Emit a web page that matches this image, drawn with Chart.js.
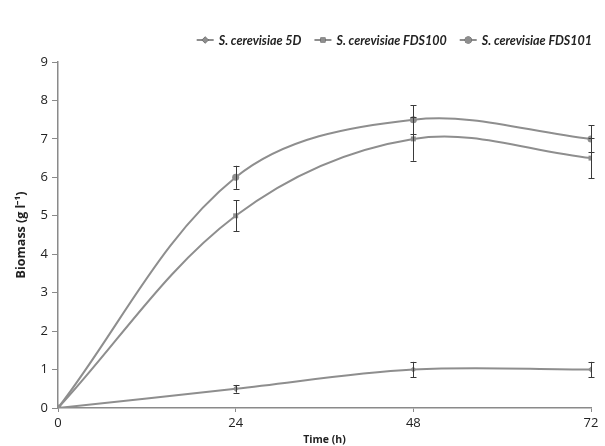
<!DOCTYPE html>
<html>
<head>
<meta charset="utf-8">
<script src="https://cdn.jsdelivr.net/npm/chart.js@4.4.1/dist/chart.umd.min.js"></script>
<style>
    html, body { margin: 0; padding: 0; background: #fff; }
    #wrap { width: 605px; height: 446px; position: relative; }
</style>
</head>
<body>
<div id="wrap"><canvas id="myChart"></canvas></div>
<script>
"use strict";

// data
const timeHours = [0, 24, 48, 72];
const xTicks = [0, 24, 48, 72];
const seriesNames = ['S. cerevisiae 5D', 'S. cerevisiae FDS100', 'S. cerevisiae FDS101'];
const biomass5D = [0, 0.5, 1.0, 1.0];
const error5D = [0, 0.1, 0.2, 0.2];
const biomassFDS100 = [0, 5.0, 7.0, 6.5];
const errorFDS100 = [0, 0.4, 0.57, 0.52];
const biomassFDS101 = [0, 6.0, 7.5, 7.0];
const errorFDS101 = [0, 0.3, 0.37, 0.35];
const markerStyles = ['rectRot', 'rect', 'circle'];

const lineColor = '#8e8e8e';
const errorColor = '#3a3a3a';

function toPoints(values) {
    return timeHours.map(function (t, i) { return { x: t, y: values[i] }; });
}

function makeDataset(i, values, errors) {
    return {
        label: seriesNames[i],
        data: toPoints(values),
        errors: errors,
        borderColor: lineColor,
        backgroundColor: lineColor,
        borderWidth: 2,
        tension: 0.35,
        pointStyle: markerStyles[i],
        pointRadius: i === 0 ? 3 : 3.5,
        pointBorderWidth: 0,
        pointBackgroundColor: lineColor
    };
}

// draws vertical error bars with caps for every point
const errorBarPlugin = {
    id: 'errorBars',
    afterDatasetsDraw(chart) {
        const ctx = chart.ctx;
        const yScale = chart.scales.y;
        ctx.save();
        ctx.strokeStyle = errorColor;
        ctx.lineWidth = 1;
        chart.data.datasets.forEach(function (ds, di) {
            const meta = chart.getDatasetMeta(di);
            meta.data.forEach(function (pt, i) {
                const err = ds.errors[i];
                if (!err) return;
                const v = ds.data[i].y;
                const top = yScale.getPixelForValue(v + err);
                const bottom = yScale.getPixelForValue(v - err);
                const x = Math.round(pt.x) + 0.5;
                ctx.beginPath();
                ctx.moveTo(x, top);
                ctx.lineTo(x, bottom);
                ctx.moveTo(x - 3, Math.round(top) + 0.5);
                ctx.lineTo(x + 3, Math.round(top) + 0.5);
                ctx.moveTo(x - 3, Math.round(bottom) + 0.5);
                ctx.lineTo(x + 3, Math.round(bottom) + 0.5);
                ctx.stroke();
            });
        });
        ctx.restore();
    }
};

// legend drawn as line + marker, right aligned above the plot
const lineLegendPlugin = {
    id: 'lineLegend',
    afterDraw(chart) {
        const ctx = chart.ctx;
        const font = 'italic bold 12.5px Lato';
        const lineW = 17, textGap = 5, itemGap = 13;
        const y = 40;
        ctx.save();
        ctx.font = font;
        const widths = chart.data.datasets.map(function (ds) { return ctx.measureText(ds.label).width; });
        let total = 0;
        widths.forEach(function (w) { total += lineW + textGap + w; });
        total += itemGap * (widths.length - 1);
        let x = 592 - total;
        chart.data.datasets.forEach(function (ds, i) {
            ctx.strokeStyle = lineColor;
            ctx.lineWidth = 2;
            ctx.beginPath();
            ctx.moveTo(x, y);
            ctx.lineTo(x + lineW, y);
            ctx.stroke();
            Chart.helpers.drawPoint(ctx, {
                pointStyle: ds.pointStyle,
                radius: 3.5,
                borderWidth: 0
            }, x + lineW / 2, y);
            ctx.fillStyle = lineColor;
            ctx.fill();
            x += lineW + textGap;
            ctx.fillStyle = '#222';
            ctx.textBaseline = 'middle';
            ctx.textAlign = 'left';
            ctx.fillText(ds.label, x, y + 1);
            x += widths[i] + itemGap;
        });
        ctx.restore();
    }
};

const ctx = document.getElementById('myChart');
const myChart = new Chart(ctx, {
    type: 'line',
    data: {
        datasets: [
            makeDataset(0, biomass5D, error5D),
            makeDataset(1, biomassFDS100, errorFDS100),
            makeDataset(2, biomassFDS101, errorFDS101)
        ]
    },
    plugins: [errorBarPlugin, lineLegendPlugin],
    options: {
        responsive: true,
        maintainAspectRatio: false,
        animation: false,
        layout: {
            padding: { top: 62, right: 14, left: 0, bottom: 0 }
        },
        plugins: {
            legend: { display: false },
            tooltip: { enabled: false }
        },
        scales: {
            x: {
                type: 'linear',
                min: 0,
                max: 72,
                afterBuildTicks: function (scale) {
                    scale.ticks = xTicks.map(function (v) { return { value: v }; });
                },
                afterFit: function (scale) { scale.height = 38; },
                border: { color: '#8a8a8a', width: 1.5 },
                grid: { drawOnChartArea: false, drawTicks: true, tickLength: 4, color: '#8a8a8a' },
                ticks: {
                    color: '#222',
                    padding: 3,
                    maxRotation: 0,
                    font: { family: 'Open Sans', size: 13 }
                },
                title: {
                    display: true,
                    text: 'Time (h)',
                    color: '#222',
                    padding: { top: 0, bottom: 0 },
                    font: { family: 'Open Sans', size: 10.5, weight: 'bold' }
                }
            },
            y: {
                min: 0,
                max: 9,
                afterFit: function (scale) { scale.width = 58; },
                border: { color: '#8a8a8a', width: 1.5 },
                grid: { drawOnChartArea: false, drawTicks: true, tickLength: 6, color: '#8a8a8a' },
                ticks: {
                    stepSize: 1,
                    color: '#222',
                    padding: 4,
                    font: { family: 'Open Sans', size: 13 }
                },
                title: {
                    display: true,
                    text: 'Biomass (g l\u207B\u00B9)',
                    color: '#222',
                    padding: { top: 14, bottom: 0 },
                    font: { family: 'Open Sans', size: 12.5, weight: 'bold' }
                }
            }
        }
    }
});
</script>
</body>
</html>
